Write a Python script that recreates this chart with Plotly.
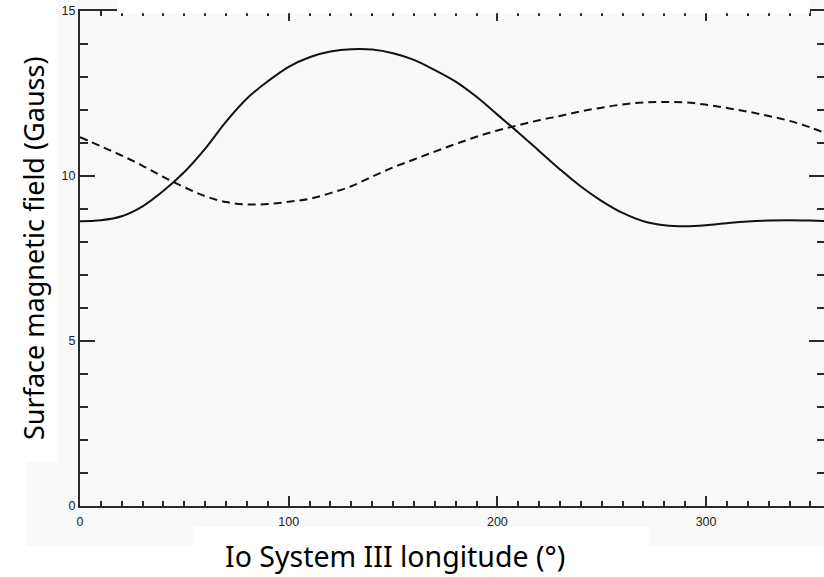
import plotly.graph_objects as go

# Io System III longitude (deg)
longitude = [0, 10, 20, 30, 40, 50, 60, 70, 80, 90, 100, 110, 120, 130, 140, 150, 160, 170, 180,
             190, 200, 210, 220, 230, 240, 250, 260, 270, 280, 290, 300, 310, 320, 330, 340, 350, 360]

# Surface magnetic field (Gauss), solid curve
field_solid = [8.63, 8.66, 8.78, 9.08, 9.55, 10.12, 10.83, 11.65, 12.35, 12.87, 13.31, 13.60, 13.77,
               13.84, 13.83, 13.72, 13.52, 13.21, 12.86, 12.40, 11.86, 11.32, 10.76, 10.20, 9.68,
               9.24, 8.88, 8.63, 8.51, 8.48, 8.51, 8.57, 8.62, 8.65, 8.66, 8.65, 8.63]

# Surface magnetic field (Gauss), dashed curve
field_dashed = [11.18, 10.90, 10.62, 10.31, 9.97, 9.66, 9.39, 9.21, 9.14, 9.15, 9.22, 9.31, 9.48,
                9.69, 9.98, 10.26, 10.50, 10.74, 10.97, 11.19, 11.38, 11.54, 11.69, 11.82, 11.96,
                12.07, 12.17, 12.23, 12.24, 12.23, 12.16, 12.06, 11.95, 11.82, 11.67, 11.47, 11.22]

x_ticks = [0, 100, 200, 300]
y_ticks = [0, 5, 10, 15]

W, H = 824, 577
L, R, T, B = 80, 0, 11, 71
PW, PH = W - L - R, H - T - B


def px_x(p):
    return (p - L) / PW


def px_y(p):
    return (H - B - p) / PH


fig = go.Figure()
fig.add_trace(go.Scatter(x=longitude, y=field_solid, mode="lines",
                         line=dict(color="#111111", width=2, shape="spline", smoothing=1.0),
                         showlegend=False))
fig.add_trace(go.Scatter(x=longitude, y=field_dashed, mode="lines",
                         line=dict(color="#111111", width=2, dash="8px,5px",
                                   shape="spline", smoothing=1.0),
                         showlegend=False))

axis_color = "#2a2a2a"
tick_font = dict(family="Liberation Sans, Arial, sans-serif", size=12.5, color="#222222")

fig.update_xaxes(range=[0, 356.5], tickvals=x_ticks, ticks="inside", ticklen=10, tickwidth=1.5,
                 tickcolor=axis_color, showline=True, linewidth=2, linecolor=axis_color,
                 mirror="ticks", showgrid=False, zeroline=False, tickfont=tick_font,
                 ticklabelstandoff=3,
                 minor=dict(dtick=10, tick0=0, ticks="inside", ticklen=5, tickwidth=1.5,
                            tickcolor=axis_color, showgrid=False))
fig.update_yaxes(range=[0, 15], tickvals=y_ticks, ticks="inside", ticklen=15, tickwidth=1.5,
                 tickcolor=axis_color, showline=True, linewidth=2, linecolor=axis_color,
                 mirror="ticks", showgrid=False, zeroline=False, tickfont=tick_font,
                 minor=dict(dtick=1, tick0=0, ticks="inside", ticklen=7.5, tickwidth=1.5,
                            tickcolor=axis_color, showgrid=False))

white = "#ffffff"
panel = "#f9f9f9"
shapes = [
    # light panel behind the plot
    dict(type="rect", xref="paper", yref="paper", layer="below", line=dict(width=0),
         fillcolor=panel, x0=px_x(27), x1=px_x(824), y0=px_y(546), y1=px_y(-5)),
    # text box behind the y title
    dict(type="rect", xref="paper", yref="paper", layer="below", line=dict(width=0),
         fillcolor=white, x0=px_x(-5), x1=px_x(58), y0=px_y(462), y1=px_y(-5)),
    # text box behind the x title
    dict(type="rect", xref="paper", yref="paper", layer="below", line=dict(width=0),
         fillcolor=white, x0=px_x(193), x1=px_x(650), y0=px_y(582), y1=px_y(527)),
    # white strip along the top edge
    dict(type="rect", xref="paper", yref="paper", layer="above", line=dict(width=0),
         fillcolor=white, x0=px_x(117), x1=px_x(810), y0=px_y(13.3), y1=px_y(-5)),
]

title_family = "Noto Sans, sans-serif"
annotations = [
    dict(text="Io System III longitude (°)", xref="paper", yref="paper",
         x=px_x(395), y=px_y(556), xanchor="center", yanchor="middle",
         showarrow=False, font=dict(family=title_family, size=28.5, color="#000000")),
    dict(text="Surface magnetic field (Gauss)", xref="paper", yref="paper",
         x=px_x(33), y=px_y(248), xanchor="center", yanchor="middle", textangle=-90,
         showarrow=False, font=dict(family=title_family, size=27, color="#000000")),
]

fig.update_layout(width=W, height=H, margin=dict(l=L, r=R, t=T, b=B, autoexpand=False),
                  paper_bgcolor=white, plot_bgcolor="rgba(0,0,0,0)",
                  shapes=shapes, annotations=annotations, showlegend=False)

fig.write_html("out.html")
